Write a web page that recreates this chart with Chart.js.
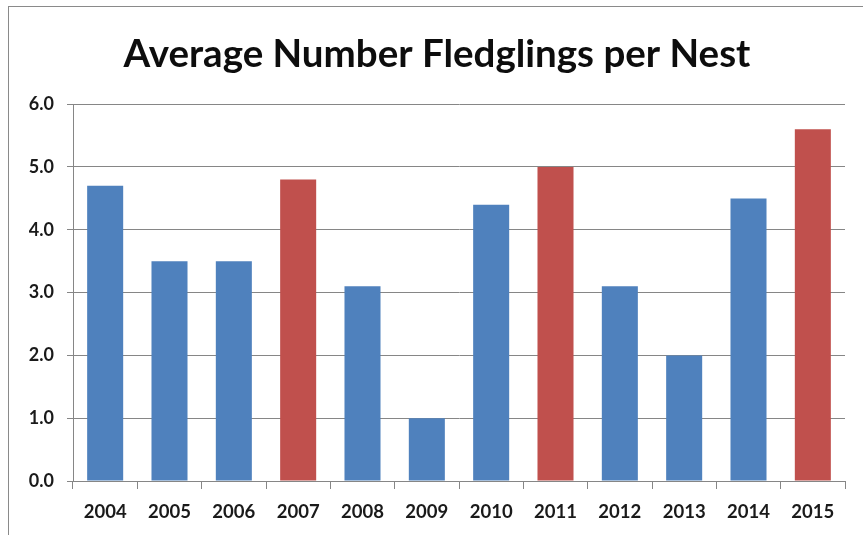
<!DOCTYPE html>
<html>
<head>
<meta charset="utf-8">
<script src="https://cdn.jsdelivr.net/npm/chart.js@4/dist/chart.umd.min.js"></script>
<style>
  html, body { margin: 0; padding: 0; background: #fff; overflow: hidden; }
  #wrap { position: relative; width: 863px; height: 535px; }
  #frame {
    position: absolute; left: 8px; top: 6px; width: 900px; height: 600px;
    border: 1px solid #8a8a8a; pointer-events: none;
  }
  canvas { position: absolute; left: 0; top: 0; }
</style>
</head>
<body>
<div id="wrap">
  <canvas id="chart" width="863" height="535"></canvas>
  <div id="frame"></div>
</div>
<script>
const BLUE = '#4F81BD'
const RED = '#C0504D'
const GRID = '#868686'
const FONT = "Lato, 'Noto Sans', sans-serif"

const years = ['2004', '2005', '2006', '2007', '2008', '2009', '2010', '2011', '2012', '2013', '2014', '2015']
const fledglings = [4.7, 3.5, 3.5, 4.8, 3.1, 1.0, 4.4, 5.0, 3.1, 2.0, 4.5, 5.6]
// years highlighted in red
const highlightYears = ['2007', '2011', '2015']
const yTicks = [0, 1, 2, 3, 4, 5, 6]

const barColors = years.map((y) => (highlightYears.includes(y) ? RED : BLUE))

new Chart(document.getElementById('chart'), {
  type: 'bar',
  data: {
    labels: years,
    datasets: [
      {
        data: fledglings,
        backgroundColor: barColors,
        borderWidth: 0,
        barPercentage: 0.56,
        categoryPercentage: 1.0,
      },
    ],
  },
  options: {
    responsive: false,
    animation: false,
    // left padding keeps the title centred over the frame, axis stays at x=73
    layout: { padding: { left: 29, right: 18, top: 0, bottom: 0 } },
    scales: {
      x: {
        offset: true,
        grid: {
          offset: true,
          drawOnChartArea: false,
          color: GRID,
          tickLength: 8,
        },
        border: { color: GRID, width: 1 },
        ticks: {
          color: '#1a1a1a',
          font: { family: FONT, size: 18.5, weight: 'bold' },
          padding: 12,
        },
        afterFit: (scale) => { scale.height = 54 },
      },
      y: {
        min: 0,
        max: 6,
        afterBuildTicks: (scale) => { scale.ticks = yTicks.map((v) => ({ value: v })) },
        grid: { color: GRID, tickLength: 6 },
        border: { color: GRID, width: 1 },
        ticks: {
          color: '#1a1a1a',
          font: { family: FONT, size: 18, weight: 'bold' },
          padding: 13,
          callback: (v) => v.toFixed(1),
        },
        afterFit: (scale) => { scale.width = 44 },
      },
    },
    plugins: {
      legend: { display: false },
      tooltip: { enabled: false },
      title: {
        display: true,
        text: 'Average Number Fledglings per Nest',
        color: '#0d0d0d',
        font: { family: FONT, size: 38.5, weight: 'bold' },
        padding: { top: 31, bottom: 27 },
      },
    },
  },
})
</script>
</body>
</html>
